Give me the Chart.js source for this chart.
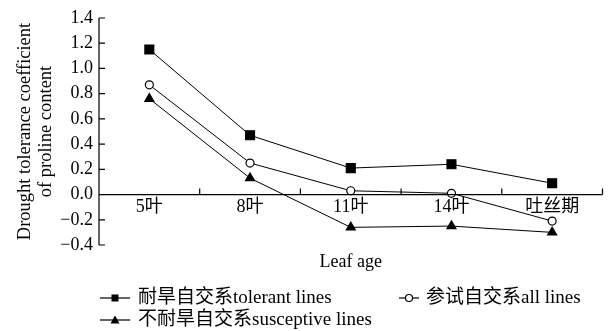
<!DOCTYPE html>
<html>
<head>
<meta charset="utf-8">
<style>
html,body{margin:0;padding:0;background:#fff;}
canvas{display:block;}
</style>
<script src="https://cdn.jsdelivr.net/npm/chart.js@4/dist/chart.umd.min.js"></script>
</head>
<body>
<canvas id="c" width="610" height="331"></canvas>
<script>
const categories = ['5叶', '8叶', '11叶', '14叶', '吐丝期'];
const tolerantLines = [1.15, 0.47, 0.21, 0.24, 0.09];
const allLines = [0.87, 0.25, 0.03, 0.01, -0.21];
const susceptiveLines = [0.76, 0.13, -0.26, -0.25, -0.30];
const seriesLabels = ['耐旱自交系tolerant lines', '参试自交系all lines', '不耐旱自交系susceptive lines'];
const yTitleLines = ['Drought tolerance coefficient', 'of proline content'];
const xTitle = 'Leaf age';

const FONT = "'Liberation Serif', 'Noto Sans CJK SC', serif";

function ds(label, data, style, fill, r) {
  return {
    label, data,
    borderColor: '#000', borderWidth: 1,
    pointStyle: style, pointRadius: r, pointHoverRadius: r,
    pointBackgroundColor: fill, pointBorderColor: '#000', pointBorderWidth: 1.2,
    tension: 0, fill: false
  };
}

function marker(ctx, style, x, y) {
  ctx.save();
  ctx.lineWidth = 1.2;
  ctx.strokeStyle = '#000';
  if (style === 'rect') {
    ctx.fillStyle = '#000';
    ctx.fillRect(x - 3.5, y - 3.5, 7, 7);
  } else if (style === 'circle') {
    ctx.fillStyle = '#fff';
    ctx.beginPath(); ctx.arc(x, y, 3.5, 0, Math.PI * 2); ctx.fill(); ctx.stroke();
  } else {
    ctx.fillStyle = '#000';
    ctx.beginPath(); ctx.moveTo(x, y - 4.5); ctx.lineTo(x + 4.5, y + 3.5); ctx.lineTo(x - 4.5, y + 3.5); ctx.closePath(); ctx.fill();
  }
  ctx.restore();
}

const axesPlugin = {
  id: 'axesPlugin',
  afterDraw(chart) {
    const ctx = chart.ctx;
    const xs = chart.scales.x, ys = chart.scales.y;
    const ca = chart.chartArea;
    const y0 = ys.getPixelForValue(0);
    ctx.save();
    ctx.strokeStyle = '#000';
    ctx.lineWidth = 1.2;
    // y axis
    const yTop = ys.getPixelForValue(ys.max), yBot = ys.getPixelForValue(ys.min);
    ctx.beginPath();
    ctx.moveTo(ca.left, yTop); ctx.lineTo(ca.left, yBot);
    ys.ticks.forEach(t => {
      const p = ys.getPixelForValue(t.value);
      ctx.moveTo(ca.left, p); ctx.lineTo(ca.left + 6, p);
    });
    // x axis
    ctx.moveTo(ca.left, y0); ctx.lineTo(ca.right, y0);
    const n = categories.length;
    for (let i = 1; i <= n; i++) {
      const p = i < n ? (xs.getPixelForValue(i - 1) + xs.getPixelForValue(i)) / 2 : ca.right;
      ctx.moveTo(p, y0); ctx.lineTo(p, y0 - 6);
    }
    ctx.stroke();

    ctx.fillStyle = '#000';
    // x title
    ctx.font = '18px ' + FONT;
    ctx.textAlign = 'center'; ctx.textBaseline = 'middle';
    ctx.fillText(xTitle, (ca.left + ca.right) / 2, 262);
    // y title
    ctx.font = '18.5px ' + FONT;
    ctx.save();
    ctx.translate(25, (yTop + yBot) / 2);
    ctx.rotate(-Math.PI / 2);
    ctx.fillText(yTitleLines[0], 0, 0);
    ctx.fillText(yTitleLines[1], 0, 21);
    ctx.restore();

    // legend
    const items = [
      {x: 100, y: 298, len: 30, mx: 115, tx: 138, i: 0, st: 'rect'},
      {x: 399, y: 298, len: 20, mx: 409, tx: 426, i: 1, st: 'circle'},
      {x: 100, y: 320, len: 30, mx: 115, tx: 138, i: 2, st: 'triangle'}
    ];
    ctx.font = '19px ' + FONT;
    ctx.textAlign = 'left'; ctx.textBaseline = 'middle';
    items.forEach(it => {
      ctx.beginPath();
      ctx.lineWidth = 1.2;
      ctx.moveTo(it.x, it.y); ctx.lineTo(it.x + it.len, it.y); ctx.stroke();
      marker(ctx, it.st, it.mx, it.y);
      ctx.fillText(chart.data.datasets[it.i].label, it.tx, it.y);
    });
    ctx.restore();
  }
};

new Chart(document.getElementById('c'), {
  type: 'line',
  data: {
    labels: categories,
    datasets: [
      ds(seriesLabels[0], tolerantLines, 'rect', '#000', 6.3),
      ds(seriesLabels[1], allLines, 'circle', '#fff', 4),
      ds(seriesLabels[2], susceptiveLines, 'triangle', '#000', 5.2)
    ]
  },
  options: {
    responsive: false,
    animation: false,
    events: [],
    layout: { padding: { top: 18, right: 3, bottom: 86, left: 0 } },
    plugins: { legend: { display: false }, tooltip: { enabled: false } },
    scales: {
      x: {
        type: 'category',
        offset: true,
        position: { y: 0 },
        grid: { display: false, drawTicks: false, offset: true },
        border: { display: false },
        ticks: { color: '#000', font: { family: FONT, size: 18 }, padding: 2, maxRotation: 0, autoSkip: false }
      },
      y: {
        min: -0.4, max: 1.4,
        grid: { display: false, drawTicks: false },
        border: { display: false },
        afterFit(s) { s.width = 99; },
        ticks: {
          stepSize: 0.2, color: '#000', font: { family: FONT, size: 18 }, padding: 6,
          callback: v => (v < -1e-9 ? '−' + Math.abs(v).toFixed(1) : Math.abs(v).toFixed(1))
        }
      }
    }
  },
  plugins: [axesPlugin]
});
</script>
</body>
</html>
